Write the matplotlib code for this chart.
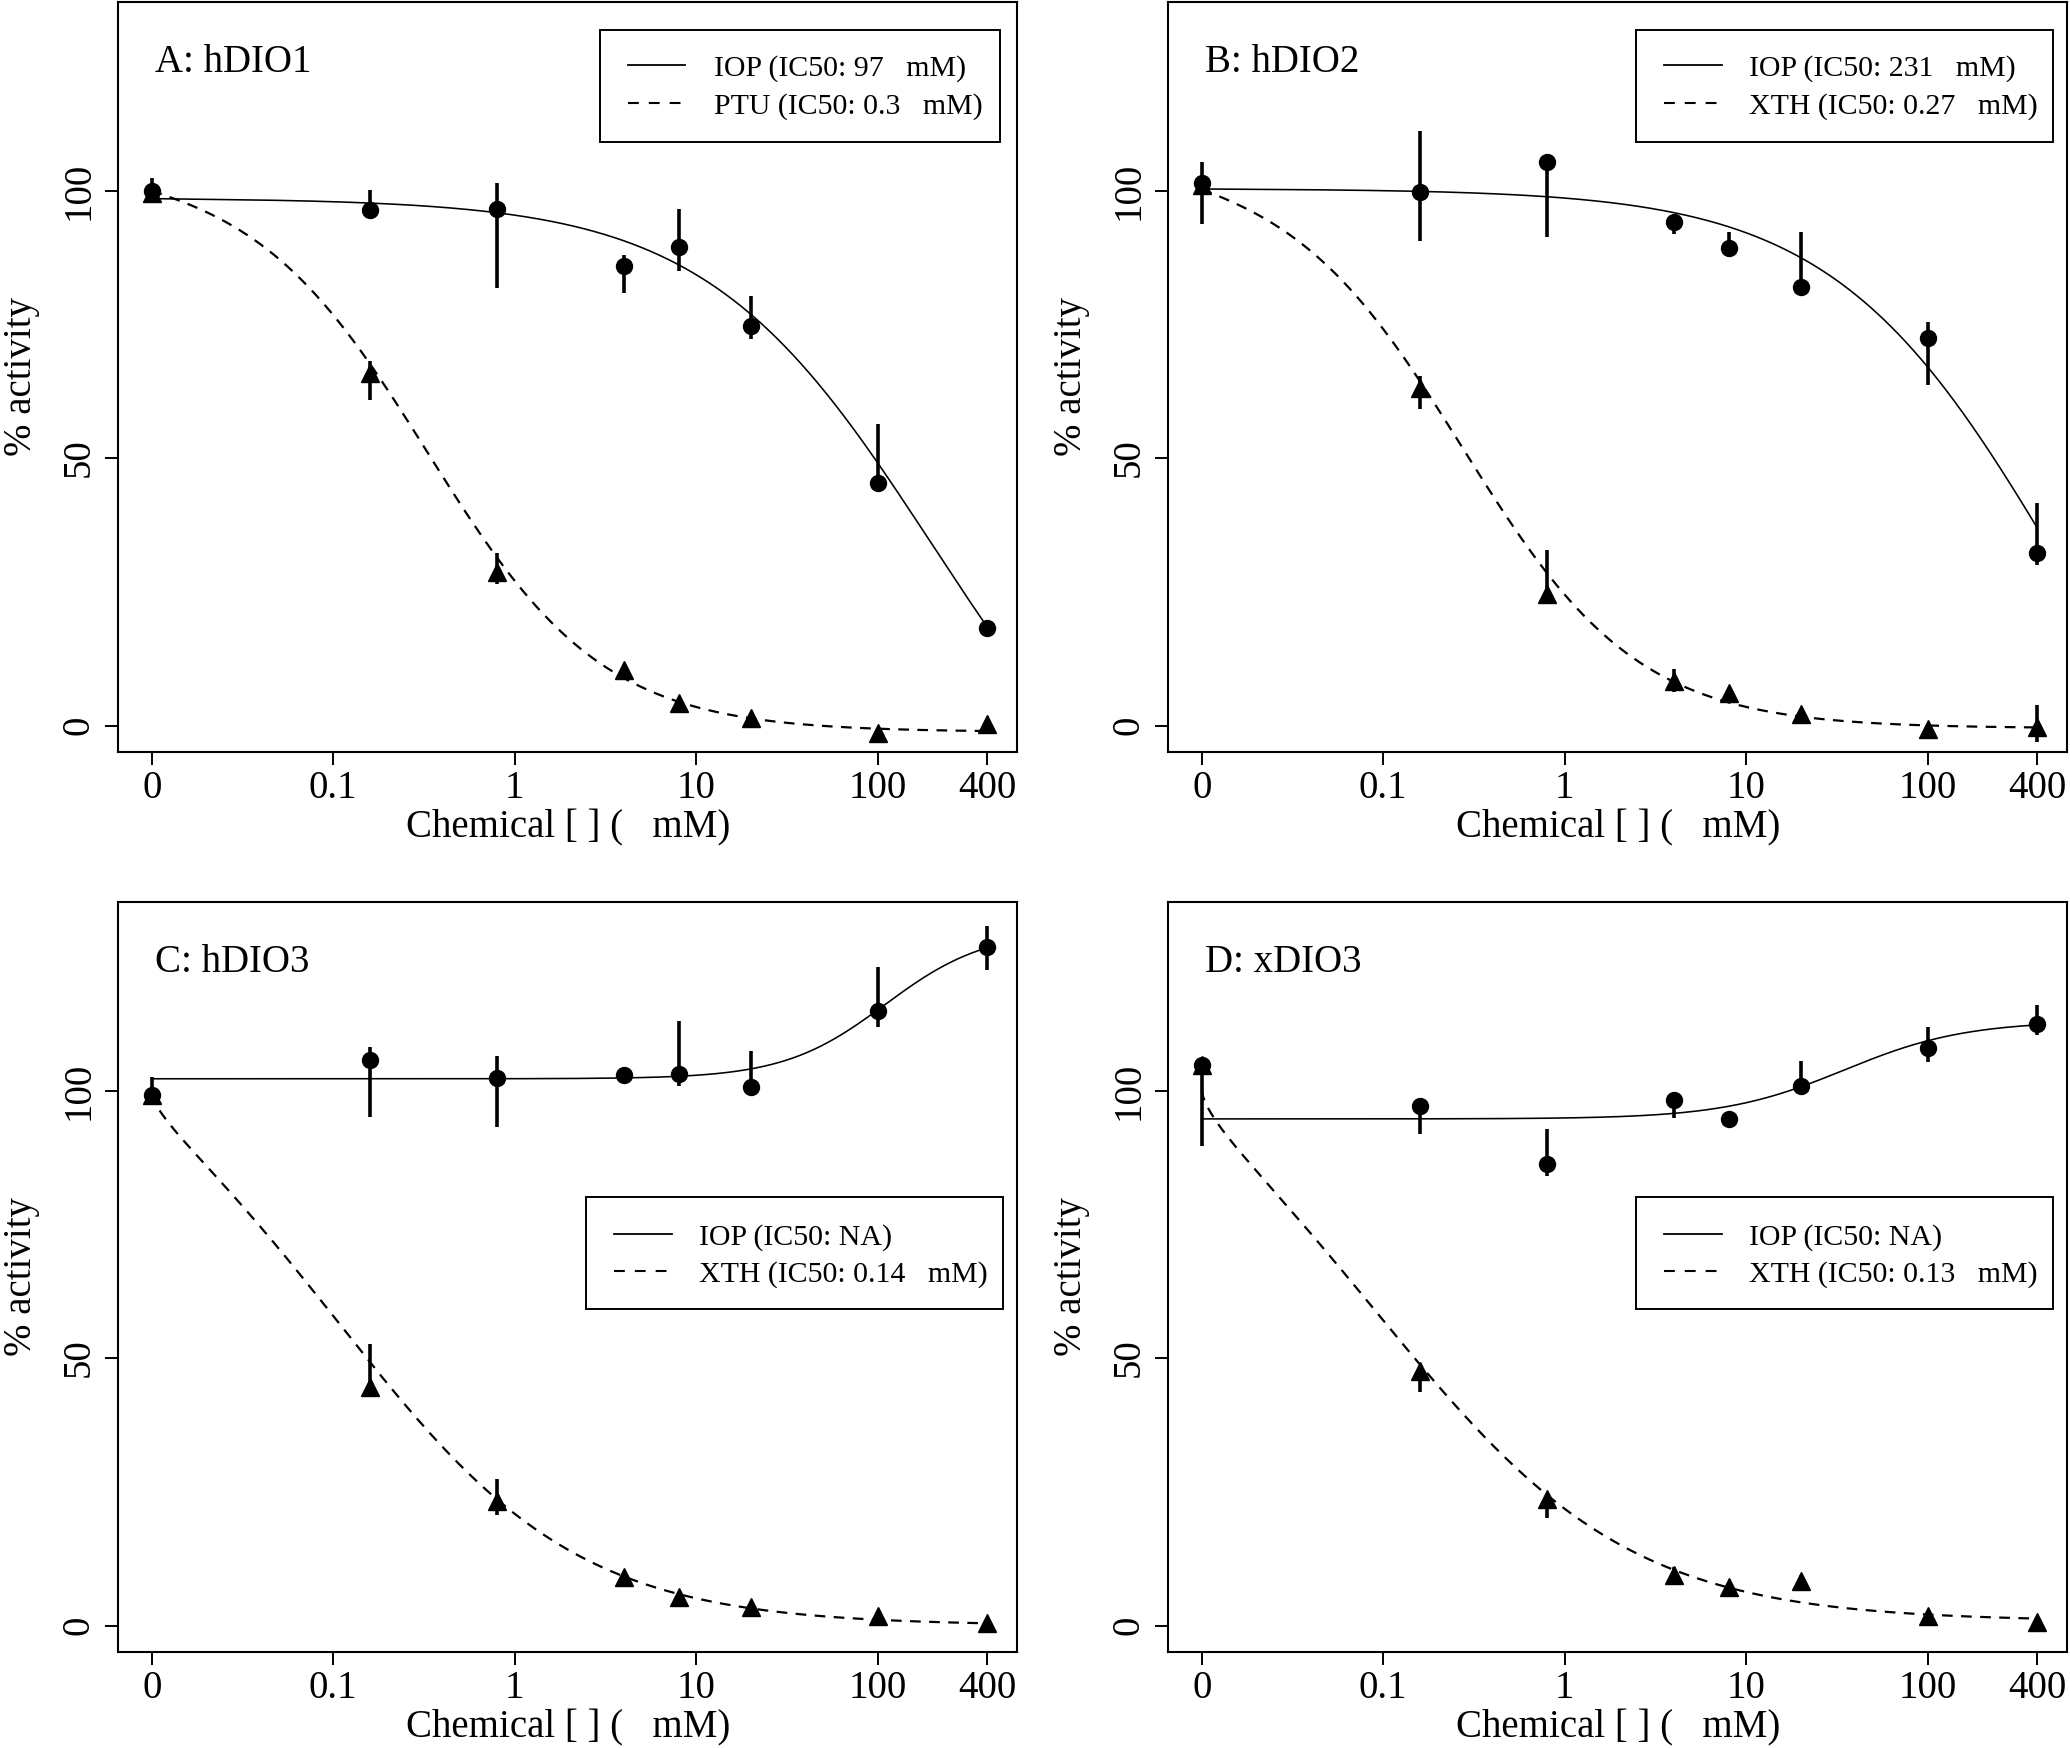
import numpy as np
import matplotlib
matplotlib.use("Agg")
import matplotlib.pyplot as plt
from matplotlib.patches import Rectangle
from matplotlib.lines import Line2D

plt.rcParams['font.family'] = ['Liberation Serif', 'DejaVu Serif']

# ---------------- data ----------------
conc = [0, 0.16, 0.8, 4, 8, 20, 100, 400]          # concentrations (0 shown at 0.01)
zero_pos = 0.01
x_tick_vals = [0.01, 0.1, 1, 10, 100, 400]
x_tick_labels = ['0', '0.1', '1', '10', '100', '400']
y_ticks = [0, 50, 100]

panel_titles = ['A: hDIO1', 'B: hDIO2', 'C: hDIO3', 'D: xDIO3']
legend_labels = [
    ['IOP (IC50: 97   mM)', 'PTU (IC50: 0.3   mM)'],
    ['IOP (IC50: 231   mM)', 'XTH (IC50: 0.27   mM)'],
    ['IOP (IC50: NA)', 'XTH (IC50: 0.14   mM)'],
    ['IOP (IC50: NA)', 'XTH (IC50: 0.13   mM)'],
]

# IOP (circles): mean, lower, upper
iop_A = [100, 96.4, 96.6, 85.9, 89.4, 74.7, 45.3, 18.3]
iop_A_lo = [98.0, 95.7, 81.7, 80.8, 84.9, 72.2, 44.1, 16.5]
iop_A_hi = [102.4, 100.1, 101.4, 87.9, 96.5, 80.3, 56.3, 19.7]
iop_B = [101.4, 99.8, 105.4, 94.1, 89.3, 81.9, 72.4, 32.3]
iop_B_lo = [93.7, 90.5, 91.4, 91.9, 87.6, 81.9, 63.6, 30.1]
iop_B_hi = [105.3, 111.1, 105.4, 95.3, 92.3, 92.3, 75.5, 41.6]
iop_C = [99.2, 105.7, 102.4, 102.9, 103.1, 100.7, 114.9, 126.8]
iop_C_lo = [98.0, 95.0, 93.2, 102.9, 100.9, 100.7, 111.9, 122.6]
iop_C_hi = [102.5, 108.2, 106.4, 102.9, 113.0, 107.3, 123.1, 130.8]
iop_D = [104.8, 97.1, 86.2, 98.3, 94.7, 100.9, 108.0, 112.5]
iop_D_lo = [89.6, 91.8, 84.1, 94.8, 93.7, 99.8, 105.3, 110.4]
iop_D_hi = [105.7, 97.1, 92.8, 98.3, 95.9, 105.5, 111.9, 115.9]

# reference chemical (triangles): mean, lower, upper
ref_A = [99.5, 65.9, 28.7, 10.4, 4.3, 1.5, -1.4, 0.2]
ref_A_lo = [99.5, 60.9, 26.4, 10.4, 4.3, 1.5, -1.4, 0.2]
ref_A_hi = [99.5, 68.1, 32.3, 10.4, 4.3, 1.5, -1.4, 0.2]
ref_B = [101.0, 63.1, 24.6, 8.3, 6.1, 2.2, -0.7, -0.3]
ref_B_lo = [101.0, 59.1, 24.6, 6.3, 6.1, 2.2, -0.7, -3.0]
ref_B_hi = [101.0, 65.4, 32.8, 10.6, 6.1, 2.2, -0.7, 3.8]
ref_C = [99.2, 44.6, 23.3, 9.0, 5.4, 3.4, 1.7, 0.4]
ref_C_lo = [99.2, 44.6, 20.7, 9.0, 5.4, 3.4, 1.7, 0.4]
ref_C_hi = [99.2, 52.7, 27.4, 9.0, 5.4, 3.4, 1.7, 0.4]
ref_D = [104.8, 47.5, 23.7, 9.4, 7.2, 8.3, 1.7, 0.6]
ref_D_lo = [104.8, 43.7, 20.1, 9.0, 7.2, 7.0, 1.7, 0.6]
ref_D_hi = [104.8, 48.6, 23.7, 11.0, 7.2, 9.5, 1.7, 0.6]

# fitted log-logistic curves: top (low dose), bottom (high dose), c, hill
iop_fit_top = [98.5, 100.3, 102.2, 94.7]
iop_fit_bottom = [-30.0, -40.0, 130.0, 113.0]
iop_fit_c = [195.8, 530.0, 110.0, 34.7]
iop_fit_hill = [0.7, 0.7, 1.55, 1.3]
ref_fit_top = [100.0, 100.3, 99.5, 100.1]
ref_fit_bottom = [-1.2, -0.5, 0.0, 0.8]
ref_fit_c = [0.345, 0.288, 0.145, 0.135]
ref_fit_hill = [0.9, 0.9, 0.69, 0.66]

iop_all = [(iop_A, iop_A_lo, iop_A_hi), (iop_B, iop_B_lo, iop_B_hi),
           (iop_C, iop_C_lo, iop_C_hi), (iop_D, iop_D_lo, iop_D_hi)]
ref_all = [(ref_A, ref_A_lo, ref_A_hi), (ref_B, ref_B_lo, ref_B_hi),
           (ref_C, ref_C_lo, ref_C_hi), (ref_D, ref_D_lo, ref_D_hi)]


def loglogistic(x, top, bottom, c, h):
    x = np.asarray(x, dtype=float)
    return bottom + (top - bottom) / (1.0 + (x / c) ** h)


# ---------------- figure ----------------
W, H = 2070, 1748
fig = plt.figure(figsize=(W / 100, H / 100), dpi=100)
axw, axh = 899 / W, 750.6 / H
origins = [(118.3 / W, 1 - 752.3 / H), (1168.3 / W, 1 - 752.3 / H),
           (118.3 / W, 1 - 1652.3 / H), (1168.3 / W, 1 - 1652.3 / H)]

FS = 28
LFS = 21.5
DASH = (4.8, 3.8)

legend_geom = [
    dict(box=(0.5358, 0.8137, 0.9808, 0.9623), lx=(0.567, 0.6304), tx=0.6622,
         ty=(0.9009, 0.8505), hy=(0.9154, 0.8653)),
    dict(box=(0.5203, 0.8137, 0.9841, 0.9623), lx=(0.5514, 0.6159), tx=0.6459,
         ty=(0.9009, 0.8505), hy=(0.9154, 0.8653)),
    dict(box=(0.5202, 0.4579, 0.9841, 0.6070), lx=(0.5514, 0.6159), tx=0.6459,
         ty=(0.5437, 0.4940), hy=(0.5573, 0.5076)),
    dict(box=(0.5202, 0.4579, 0.9841, 0.6070), lx=(0.5514, 0.6159), tx=0.6459,
         ty=(0.5437, 0.4940), hy=(0.5573, 0.5076)),
]

xpos = np.array([c if c > 0 else zero_pos for c in conc])
curve_xplot = np.logspace(-2, np.log10(400), 600)
curve_conc = curve_xplot - zero_pos

for i in range(4):
    ax = fig.add_axes([origins[i][0], origins[i][1], axw, axh])
    ax.set_xscale('log')
    ax.set_xlim(10 ** -2.184, 10 ** 2.769)
    ax.set_ylim(-5.0, 135.3)

    # curves
    y_iop = loglogistic(curve_conc, iop_fit_top[i], iop_fit_bottom[i], iop_fit_c[i], iop_fit_hill[i])
    y_ref = loglogistic(curve_conc, ref_fit_top[i], ref_fit_bottom[i], ref_fit_c[i], ref_fit_hill[i])
    ax.plot(curve_xplot, y_iop, color='black', lw=1.15, zorder=3)
    ax.plot(curve_xplot, y_ref, color='black', lw=1.6, linestyle=(0, DASH), zorder=3)

    # error bars
    for (m, lo, hi) in (iop_all[i], ref_all[i]):
        ax.vlines(xpos, lo, hi, color='black', lw=2.6, zorder=4)

    # points
    ax.plot(xpos, ref_all[i][0], linestyle='none', marker='^', ms=12.5, color='black', zorder=5)
    ax.plot(xpos, iop_all[i][0], linestyle='none', marker='o', ms=11.5, color='black', zorder=5)

    # axes styling
    for s in ax.spines.values():
        s.set_linewidth(1.5)
        s.set_color('black')
    ax.set_xticks(x_tick_vals)
    ax.set_xticklabels(x_tick_labels)
    ax.xaxis.set_minor_locator(matplotlib.ticker.NullLocator())
    ax.set_yticks(y_ticks)
    ax.set_yticklabels([str(v) for v in y_ticks])
    ax.tick_params(axis='both', direction='out', length=9.4, width=1.4,
                   labelsize=FS, color='black')
    ax.tick_params(axis='x', pad=3.6)
    ax.tick_params(axis='y', pad=12.2)
    for lab in ax.get_yticklabels():
        lab.set_rotation(90)
        lab.set_rotation_mode('anchor')
        lab.set_ha('center')
        lab.set_va('baseline')

    # axis labels
    ax.text(0.5, -85 / 750.6, 'Chemical [ ] (   mM)', transform=ax.transAxes,
            ha='center', va='baseline', fontsize=FS)
    ax.text(-86.8 / 899, 0.5, '% activity', transform=ax.transAxes, rotation=90,
            rotation_mode='anchor', ha='center', va='baseline', fontsize=FS)

    # panel title
    ax.text(0.0408, 0.9067, panel_titles[i], transform=ax.transAxes,
            ha='left', va='baseline', fontsize=FS)

    # legend (drawn manually)
    g = legend_geom[i]
    bx0, by0, bx1, by1 = g['box']
    ax.add_patch(Rectangle((bx0, by0), bx1 - bx0, by1 - by0, transform=ax.transAxes,
                           fill=False, ec='black', lw=1.4, zorder=6))
    ax.add_line(Line2D(g['lx'], [g['hy'][0]] * 2, transform=ax.transAxes,
                       color='black', lw=1.3, zorder=6))
    ax.add_line(Line2D(g['lx'], [g['hy'][1]] * 2, transform=ax.transAxes,
                       color='black', lw=1.5, linestyle=(0, (5.2, 4.8)), zorder=6))
    for k in range(2):
        ax.text(g['tx'], g['ty'][k], legend_labels[i][k], transform=ax.transAxes,
                ha='left', va='baseline', fontsize=LFS, zorder=6)

fig.savefig('out.png', dpi=100)
